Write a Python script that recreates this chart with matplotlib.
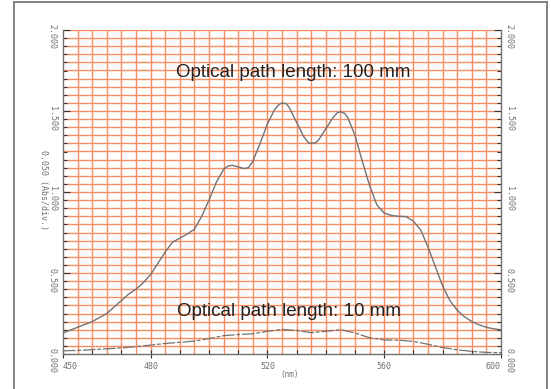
import numpy as np
import matplotlib
matplotlib.use("Agg")
import matplotlib.pyplot as plt
from matplotlib.lines import Line2D
from matplotlib.ticker import MultipleLocator
from matplotlib.transforms import blended_transform_factory, offset_copy

# absorbance spectra (nm, Abs)
wl_100 = [450, 455, 460, 465, 470, 472.5, 475, 477.5, 480, 482.5, 485, 487.5,
          490, 492.5, 495, 497.5, 500, 502.5, 505, 506.5, 508, 510, 512, 513.5, 515,
          517.5, 520, 522.5, 524, 525, 526.5, 527.5, 530, 532.5, 534, 535, 536.5,
          537.5, 540, 542.5, 544, 545, 546.5, 547.5, 550, 552.5, 555, 557.5, 560,
          562.5, 565, 567.5, 570, 572.5, 575, 577.5, 580, 582.5, 585, 587.5, 590,
          592.5, 595, 597.5, 600]
abs_100 = [0.13, 0.165, 0.20, 0.25, 0.33, 0.37, 0.40, 0.44, 0.49, 0.56, 0.63, 0.69,
           0.715, 0.74, 0.77, 0.85, 0.95, 1.06, 1.14, 1.16, 1.165, 1.155, 1.145, 1.15, 1.19,
           1.30, 1.42, 1.51, 1.54, 1.55, 1.545, 1.52, 1.43, 1.34, 1.305, 1.30, 1.305,
           1.32, 1.39, 1.46, 1.49, 1.495, 1.485, 1.46, 1.35, 1.19, 1.04, 0.92, 0.87,
           0.855, 0.85, 0.848, 0.82, 0.765, 0.66, 0.54, 0.42, 0.33, 0.27, 0.23, 0.20,
           0.18, 0.165, 0.155, 0.15]

wl_10 = [450, 455, 460, 465, 470, 475, 480, 485, 490, 495, 500, 505, 510, 515,
         520, 525, 530, 535, 540, 545, 550, 555, 560, 565, 570, 575, 580, 585,
         590, 595, 600]
abs_10 = [0.02, 0.022, 0.027, 0.032, 0.038, 0.045, 0.055, 0.065, 0.072, 0.08,
          0.095, 0.113, 0.12, 0.125, 0.14, 0.152, 0.145, 0.132, 0.14, 0.15, 0.13,
          0.10, 0.087, 0.085, 0.078, 0.06, 0.04, 0.026, 0.016, 0.01, 0.008]

x_ticks = [450, 480, 520, 560, 600]
y_ticks = [0.0, 0.5, 1.0, 1.5, 2.0]
y_labels = ["0.000", "0.500", "1.000", "1.500", "2.000"]

grid_col = "#f58c62"
ink = "#707070"
mono = "DejaVu Sans Mono"

fig = plt.figure(figsize=(5.51, 3.89), dpi=100)
fig.patch.set_facecolor("white")

# scanned page border
W, H = 551, 389
for xs, ys in [([14, 14], [395, 1.5]), ([14, 547], [1.5, 1.5]), ([547, 547], [1.5, 395])]:
    fig.add_artist(Line2D([x / W for x in xs], [1 - y / H for y in ys],
                          color="#7a7a7a", lw=1.3, transform=fig.transFigure))

ax = fig.add_axes([63 / W, 35 / H, 438 / W, 324 / H])
ax.set_xlim(450, 600)
ax.set_ylim(0, 2.0)

# recorder paper grid: 5 nm x 0.05 Abs
for v in np.arange(455, 600, 5):
    ax.axvline(v, color=grid_col, lw=1.0, zorder=1)
for h in np.arange(0.05, 2.001, 0.05):
    ax.axhline(h, color=grid_col, lw=1.0, zorder=1)

ax.plot(wl_100, abs_100, color="#727272", lw=1.0, zorder=3)
ax.plot(wl_10, abs_10, color="#727272", lw=0.9, zorder=3, dashes=(10, 1.5, 3, 1.5))

for side in ["left", "bottom", "right"]:
    ax.spines[side].set_color(ink)
    ax.spines[side].set_linewidth(1.0)
ax.spines["top"].set_visible(False)

ax.set_xticks(x_ticks)
ax.set_xticklabels([str(t) for t in x_ticks], fontfamily=mono, fontsize=6, color=ink)
xlabs = ax.get_xticklabels()
xlabs[0].set_horizontalalignment("left")
xlabs[-1].set_horizontalalignment("right")
ax.xaxis.set_minor_locator(MultipleLocator(10))
ax.tick_params(axis="x", which="major", direction="inout", length=6, width=0.8,
               color="#333333", pad=3)
ax.tick_params(axis="x", which="minor", direction="in", length=3, width=0.8,
               color="#333333")

ax.set_yticks(y_ticks)
ax.set_yticklabels([])
ax.yaxis.set_minor_locator(MultipleLocator(0.05))
ax.tick_params(axis="y", which="both", left=True, right=True, direction="in",
               color="#333333", width=0.8)
ax.tick_params(axis="y", which="major", length=5)
ax.tick_params(axis="y", which="minor", length=3)

# rotated absorbance labels on both sides, hanging just below each tick
ylab_tr = offset_copy(blended_transform_factory(fig.transFigure, ax.transData),
                      fig=fig, x=0, y=-7, units="dots")
for t, lab in zip(y_ticks, y_labels):
    for xpix in (52, 509):
        ax.text(xpix / W, t, lab, transform=ylab_tr, rotation=-90, ha="center",
                va="center", fontfamily=mono, fontsize=6, color=ink)

fig.text(43 / W, 1 - 190 / H, "0.050 (Abs/div.)", rotation=-90, ha="center",
         va="center", fontfamily=mono, fontsize=6, color=ink)
fig.text(290 / W, 1 - 374 / H, "(nm)", ha="center", va="center",
         fontfamily=mono, fontsize=5.5, color=ink)

ax.text(529, 1.735, "Optical path length: 100 mm", ha="center", va="center",
        fontfamily="Liberation Sans", fontsize=13.5, color="#222222", zorder=4)
ax.text(527.5, 0.265, "Optical path length: 10 mm", ha="center", va="center",
        fontfamily="Liberation Sans", fontsize=13.5, color="#222222", zorder=4)

fig.savefig("out.png", dpi=100, facecolor="white")
